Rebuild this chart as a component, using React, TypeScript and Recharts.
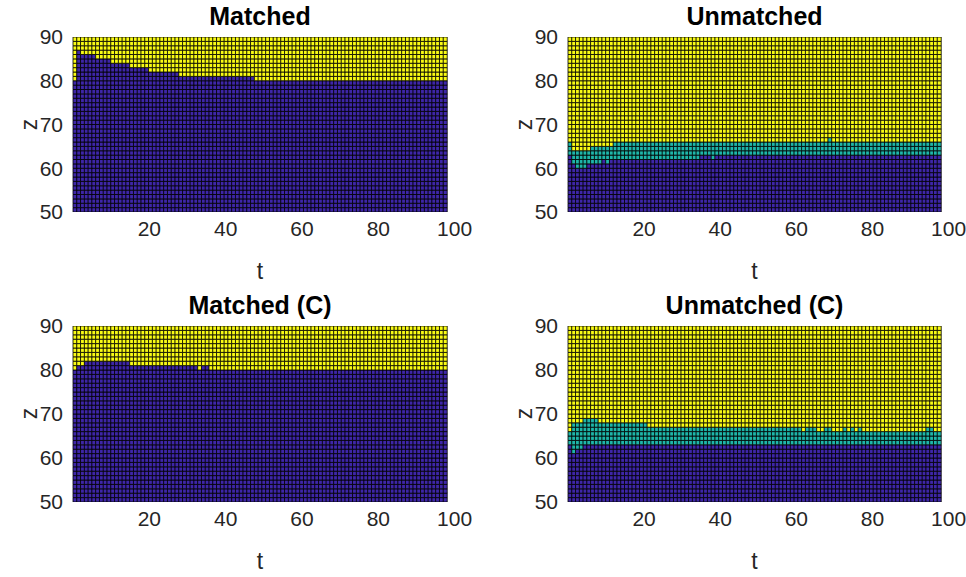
import React from 'react';
import { BarChart, Bar, XAxis, YAxis, Cell, ReferenceArea } from 'recharts';

// Extent of the t–z grid
const T_START = 1;
const T_END = 100;
const Z_START = 50;
const Z_END = 90;

const T_TICKS = [20, 40, 60, 80, 100];
const Z_TICKS = [50, 60, 70, 80, 90];

// Cell start positions along t and z (unit steps)
const tCells: number[] = [];
for (let t = T_START; t < T_END; t++) tCells.push(t);
const zCells: number[] = [];
for (let z = Z_START; z < Z_END; z++) zCells.push(z);

// Per column (t = 1..99): z where the low state ends / where the high state begins
const matchedLow = [
  80, 87, 86, 86, 86, 86, 85, 85, 85, 85,
  84, 84, 84, 84, 84, 83, 83, 83, 83, 83,
  82, 82, 82, 82, 82, 82, 82, 82, 81, 81,
  81, 81, 81, 81, 81, 81, 81, 81, 81, 81,
  81, 81, 81, 81, 81, 81, 81, 81, 80, 80,
  80, 80, 80, 80, 80, 80, 80, 80, 80, 80,
  80, 80, 80, 80, 80, 80, 80, 80, 80, 80,
  80, 80, 80, 80, 80, 80, 80, 80, 80, 80,
  80, 80, 80, 80, 80, 80, 80, 80, 80, 80,
  80, 80, 80, 80, 80, 80, 80, 80, 80,
];
const matchedHigh = matchedLow;

const unmatchedLow = [
  63, 61, 60, 60, 60, 61, 61, 61, 61, 62,
  61, 62, 62, 62, 62, 62, 62, 62, 62, 62,
  62, 62, 62, 62, 62, 62, 62, 62, 62, 62,
  62, 62, 62, 62, 62, 63, 63, 63, 62, 63,
  63, 63, 63, 63, 63, 63, 63, 63, 63, 63,
  63, 63, 63, 63, 63, 63, 63, 63, 63, 63,
  63, 63, 63, 63, 63, 63, 63, 63, 63, 63,
  63, 63, 63, 63, 63, 63, 63, 63, 63, 63,
  63, 63, 63, 63, 63, 63, 63, 63, 63, 63,
  63, 63, 63, 63, 63, 63, 63, 63, 63,
];
const unmatchedHigh = [
  66, 64, 64, 64, 64, 64, 65, 65, 65, 65,
  65, 65, 66, 66, 66, 66, 66, 66, 66, 66,
  66, 66, 66, 66, 66, 66, 66, 66, 66, 66,
  66, 66, 66, 66, 66, 66, 66, 66, 66, 66,
  66, 66, 66, 66, 66, 66, 66, 66, 66, 66,
  66, 66, 66, 66, 66, 66, 66, 66, 66, 66,
  66, 66, 66, 66, 66, 66, 66, 66, 66, 67,
  66, 66, 66, 66, 66, 66, 66, 66, 66, 66,
  66, 66, 66, 66, 66, 66, 66, 66, 66, 66,
  66, 66, 66, 66, 66, 66, 66, 66, 66,
];

const matchedCLow = [
  80, 81, 81, 82, 82, 82, 82, 82, 82, 82,
  82, 82, 82, 82, 82, 81, 81, 81, 81, 81,
  81, 81, 81, 81, 81, 81, 81, 81, 81, 81,
  81, 81, 81, 80, 81, 81, 80, 80, 80, 80,
  80, 80, 80, 80, 80, 80, 80, 80, 80, 80,
  80, 80, 80, 80, 80, 80, 80, 80, 80, 80,
  80, 80, 80, 80, 80, 80, 80, 80, 80, 80,
  80, 80, 80, 80, 80, 80, 80, 80, 80, 80,
  80, 80, 80, 80, 80, 80, 80, 80, 80, 80,
  80, 80, 80, 80, 80, 80, 80, 80, 80,
];
const matchedCHigh = matchedCLow;

const unmatchedCLow = [
  63, 61, 62, 62, 63, 63, 63, 63, 63, 63,
  63, 63, 63, 63, 63, 63, 63, 63, 63, 63,
  63, 63, 63, 63, 63, 63, 63, 63, 63, 63,
  63, 63, 63, 63, 63, 63, 63, 63, 63, 63,
  63, 63, 63, 63, 63, 63, 63, 63, 63, 63,
  63, 63, 63, 63, 63, 63, 63, 63, 63, 63,
  63, 63, 63, 63, 63, 63, 63, 63, 63, 63,
  63, 63, 63, 63, 63, 63, 63, 63, 63, 63,
  63, 63, 63, 63, 63, 63, 63, 63, 63, 63,
  63, 63, 63, 63, 63, 63, 63, 63, 63,
];
const unmatchedCHigh = [
  66, 68, 68, 68, 69, 69, 69, 69, 68, 68,
  68, 68, 68, 68, 68, 68, 68, 68, 68, 68,
  68, 67, 67, 67, 67, 67, 67, 67, 67, 67,
  67, 67, 67, 67, 67, 67, 67, 67, 67, 67,
  67, 67, 67, 67, 67, 67, 67, 67, 67, 67,
  67, 67, 67, 67, 67, 67, 67, 67, 67, 67,
  67, 67, 66, 67, 67, 67, 66, 66, 67, 67,
  66, 66, 66, 67, 66, 67, 66, 67, 66, 66,
  66, 66, 66, 66, 66, 66, 66, 66, 66, 66,
  66, 66, 66, 66, 66, 67, 67, 66, 66,
];

// parula colours for the three states
const STATE_COLORS = ['#3E26A8', '#1EB6A9', '#F9FB15'];

const FONT = '"Liberation Sans", Arial, Helvetica, sans-serif';
const TEXT_COLOR = '#262626';

type PanelProps = {
  title: string;
  low: number[];
  high: number[];
  left: number;
  top: number;
  plotW: number;
  plotH: number;
};

const M_TOP = 37;
const Y_AXIS_W = 60;
const M_LEFT = 13;
const X_AXIS_H = 75;
const M_RIGHT = 25;

function Panel({ title, low, high, left, top, plotW, plotH }: PanelProps) {
  const rows = tCells.map((t) => {
    const row: Record<string, number> = { t, base: Z_START };
    zCells.forEach((z, j) => {
      row[`c${j}`] = 1;
    });
    return row;
  });
  const stateAt = (i: number, z: number) => (z < low[i] ? 0 : z < high[i] ? 1 : 2);
  const width = M_LEFT + Y_AXIS_W + plotW + M_RIGHT;
  const height = M_TOP + plotH + X_AXIS_H;
  const plotLeft = M_LEFT + Y_AXIS_W;
  const tickStyle = { fontSize: 21, fill: TEXT_COLOR, fontFamily: FONT };

  return (
    <div style={{ position: 'absolute', left, top, width, height }}>
      <div
        style={{
          position: 'absolute',
          left: plotLeft,
          width: plotW,
          top: 4,
          textAlign: 'center',
          fontFamily: FONT,
          fontWeight: 'bold',
          fontSize: 25,
          lineHeight: '25px',
          color: '#000',
        }}
      >
        {title}
      </div>
      <BarChart
        width={width}
        height={height}
        data={rows}
        margin={{ top: M_TOP, right: M_RIGHT, left: M_LEFT, bottom: 0 }}
        barCategoryGap={0}
        barGap={0}
      >
        <XAxis xAxisId="cells" dataKey="t" type="category" hide height={0} />
        <XAxis
          xAxisId="t"
          type="number"
          domain={[T_START, T_END]}
          ticks={T_TICKS}
          allowDataOverflow
          axisLine={false}
          tickLine={false}
          tickSize={0}
          tickMargin={9}
          height={X_AXIS_H}
          tick={tickStyle}
        />
        <YAxis
          type="number"
          domain={[Z_START, Z_END]}
          ticks={Z_TICKS}
          allowDataOverflow
          axisLine={false}
          tickLine={false}
          tickSize={0}
          tickMargin={10}
          width={Y_AXIS_W}
          tick={tickStyle}
        />
        <Bar xAxisId="cells" dataKey="base" stackId="col" fill="none" stroke="none" isAnimationActive={false} />
        {zCells.map((z, j) => (
          <Bar
            key={z}
            xAxisId="cells"
            dataKey={`c${j}`}
            stackId="col"
            stroke="#000"
            strokeWidth={0.8}
            isAnimationActive={false}
          >
            {rows.map((r, i) => (
              <Cell key={r.t} fill={STATE_COLORS[stateAt(i, z)]} />
            ))}
          </Bar>
        ))}
        <ReferenceArea
          xAxisId="t"
          x1={T_START}
          x2={T_END}
          y1={Z_START}
          y2={Z_END}
          fill="none"
          stroke="#808080"
          strokeWidth={1}
        />
      </BarChart>
      <div
        style={{
          position: 'absolute',
          left: plotLeft,
          width: plotW,
          top: M_TOP + plotH + 48,
          textAlign: 'center',
          fontFamily: FONT,
          fontSize: 23,
          lineHeight: '23px',
          color: TEXT_COLOR,
        }}
      >
        t
      </div>
      <div
        style={{
          position: 'absolute',
          left: 29 - 20,
          width: 40,
          top: M_TOP + plotH / 2 - 12,
          textAlign: 'center',
          fontFamily: FONT,
          fontSize: 23,
          lineHeight: '23px',
          color: TEXT_COLOR,
          transform: 'rotate(-90deg)',
        }}
      >
        z
      </div>
    </div>
  );
}

export default function App() {
  return (
    <div style={{ position: 'absolute', left: 0, top: 0, width: 966, height: 577, background: '#fff' }}>
      <Panel title="Matched" low={matchedLow} high={matchedHigh} left={0} top={0} plotW={374} plotH={175} />
      <Panel title="Unmatched" low={unmatchedLow} high={unmatchedHigh} left={495} top={0} plotW={373} plotH={175} />
      <Panel title="Matched (C)" low={matchedCLow} high={matchedCHigh} left={0} top={289} plotW={374} plotH={176} />
      <Panel title="Unmatched (C)" low={unmatchedCLow} high={unmatchedCHigh} left={495} top={289} plotW={373} plotH={176} />
    </div>
  );
}
